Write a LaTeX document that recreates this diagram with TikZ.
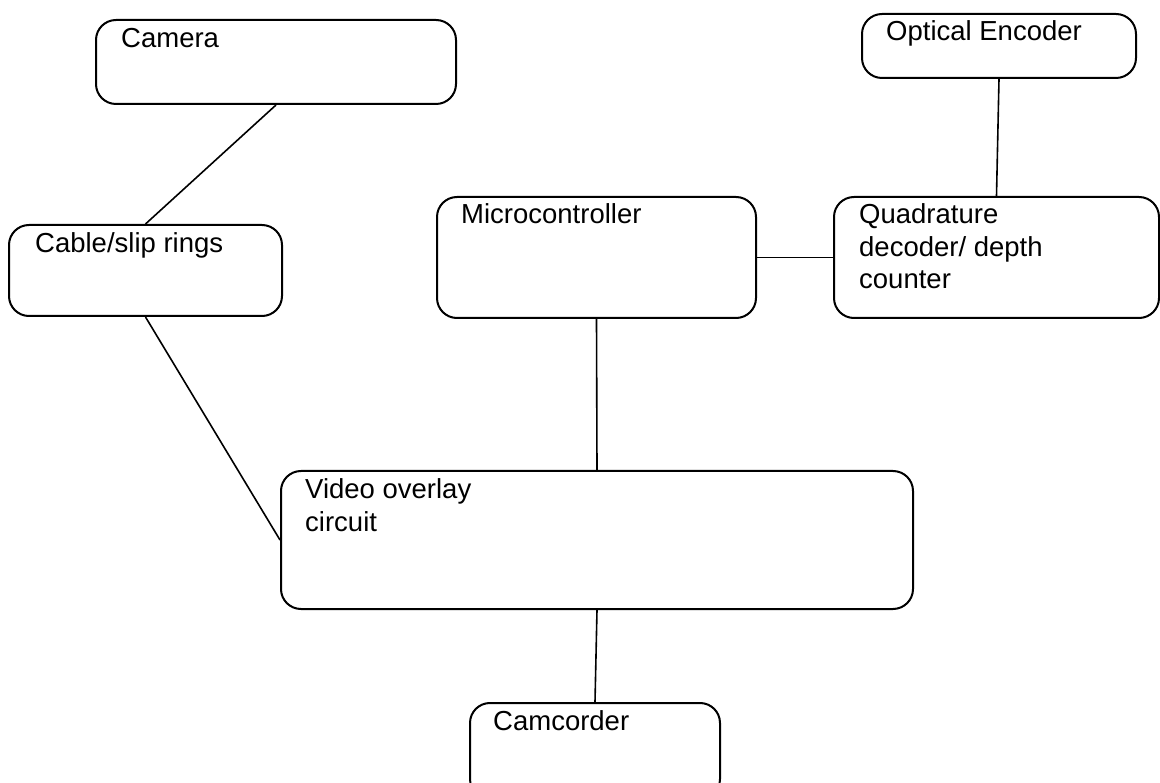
\documentclass[tikz,border=0pt]{standalone}
\usepackage{fontspec}
\setmainfont{Liberation Sans}
\begin{document}
\begin{tikzpicture}[x=1pt,y=-1pt,
  box/.style={draw=black, line width=2pt, rounded corners=20pt, inner sep=0pt},
  lbl/.style={anchor=base west, inner sep=0pt, font=\fontsize{27.5}{32.5}\selectfont, align=left},
  wire/.style={draw=black, line width=1.6pt}]
\useasboundingbox (0,0) rectangle (1160,783);
\clip (0,0) rectangle (1160,783);
\node[box, minimum width=360pt, minimum height=84pt] (cam) at (276,62) {};
\node[box, minimum width=274pt, minimum height=64pt] (enc) at (999,46) {};
\node[box, minimum width=273pt, minimum height=91pt] (cab) at (145.5,270.5) {};
\node[box, minimum width=319pt, minimum height=121pt] (mcu) at (596.5,257.5) {};
\node[box, minimum width=325pt, minimum height=121pt] (quad) at (996.5,257.5) {};
\node[box, minimum width=632pt, minimum height=138pt] (vid) at (597,540) {};
\node[box, minimum width=250pt, minimum height=96pt] (camc) at (595,751) {};
\node[lbl] (tcam) at (121,48) {Camera};
\node[lbl] (tenc) at (886,41) {Optical Encoder};
\node[lbl] (tcab) at (35,253) {Cable/slip rings};
\node[lbl] (tmcu) at (461,224) {Microcontroller};
\node[lbl] (tquad) at (859,289) {Quadrature\\decoder/ depth\\counter};
\node[lbl] (tvid) at (305,531) {Video overlay\\circuit};
\node[lbl] (tcamc) at (493,730) {Camcorder};
\draw[wire] (cam.south) -- (cab.north);
\draw[wire] (cab.south) -- (vid.west);
\draw[wire] (mcu.south) -- (vid.north);
\draw[wire] (mcu.east) -- (quad.west);
\draw[wire] (enc.south) -- (quad.north);
\draw[wire] (vid.south) -- (camc.north);
\end{tikzpicture}
\end{document}
